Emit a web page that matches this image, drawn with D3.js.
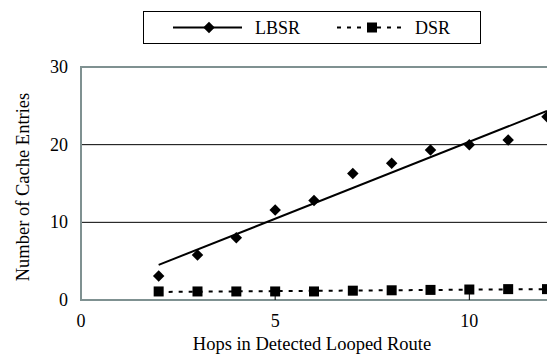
<!DOCTYPE html>
<html>
<head>
<meta charset="utf-8">
<script src="https://cdn.jsdelivr.net/npm/d3@7"></script>
<style>
  body { margin: 0; background: #fff; }
  svg { display: block; font-family: "Liberation Serif", "Times New Roman", serif; }
</style>
</head>
<body>
<div id="chart"></div>
<script>
// data
const hops = [2, 3, 4, 5, 6, 7, 8, 9, 10, 11, 12];
const lbsrValues = [3.1, 5.8, 8.0, 11.6, 12.8, 16.3, 17.6, 19.3, 20.0, 20.6, 23.6];
const dsrValues = [1.1, 1.1, 1.1, 1.1, 1.1, 1.2, 1.25, 1.3, 1.35, 1.4, 1.4];
const xTicks = [0, 5, 10];
const yTicks = [0, 10, 20, 30];

const W = 547, H = 356;
const margin = {top: 67, left: 81, bottom: 56};
const svg = d3.select("#chart").append("svg")
    .attr("width", W)
    .attr("height", H);

const x = d3.scaleLinear().domain([0, 12]).range([margin.left, 547]);
const y = d3.scaleLinear().domain([0, 30]).range([H - margin.bottom, margin.top]);

// linear trend (least squares) like the spreadsheet trendline
function trend(xs, ys) {
    const mx = d3.mean(xs), my = d3.mean(ys);
    let sxy = 0, sxx = 0;
    xs.forEach((v, i) => { sxy += (v - mx) * (ys[i] - my); sxx += (v - mx) * (v - mx); });
    const b = sxy / sxx, a = my - b * mx;
    const x0 = d3.min(xs), x1 = d3.max(xs);
    return [[x0, a + b * x0], [x1, a + b * x1]];
}

// gridlines
svg.append("g").selectAll("line")
    .data(yTicks.filter(t => t > 0 && t < 30))
    .join("line")
    .attr("x1", x(0)).attr("x2", W)
    .attr("y1", d => y(d)).attr("y2", d => y(d))
    .attr("stroke", "#000").attr("stroke-width", 1);

// plot frame (right side runs off the page)
svg.append("rect")
    .attr("x", x(0)).attr("y", y(30))
    .attr("width", W + 20 - x(0)).attr("height", y(0) - y(30))
    .attr("fill", "none").attr("stroke", "#7f9191").attr("stroke-width", 2);

// small inner ticks on x axis
svg.append("g").selectAll("line")
    .data(xTicks.filter(t => t > 0))
    .join("line")
    .attr("x1", d => x(d)).attr("x2", d => x(d))
    .attr("y1", y(0)).attr("y2", y(0) - 6)
    .attr("stroke", "#000");

// tick labels
svg.append("g").selectAll("text")
    .data(xTicks)
    .join("text")
    .attr("x", d => x(d)).attr("y", y(0) + 27)
    .attr("text-anchor", "middle")
    .attr("font-size", 18)
    .text(d => d);

svg.append("g").selectAll("text")
    .data(yTicks)
    .join("text")
    .attr("x", 68).attr("y", d => y(d) + 6)
    .attr("text-anchor", "end")
    .attr("font-size", 18)
    .text(d => d);

// axis titles
svg.append("text")
    .attr("x", 312).attr("y", 350)
    .attr("text-anchor", "middle")
    .attr("font-size", 18.5)
    .text("Hops in Detected Looped Route");

svg.append("text")
    .attr("transform", "translate(29," + 187 + ") rotate(-90)")
    .attr("text-anchor", "middle")
    .attr("font-size", 18.5)
    .text("Number of Cache Entries");

const line = d3.line().x(d => x(d[0])).y(d => y(d[1]));

// DSR series
svg.append("path")
    .attr("d", line(trend(hops, dsrValues)))
    .attr("fill", "none").attr("stroke", "#000").attr("stroke-width", 2)
    .attr("stroke-dasharray", "4,6");

svg.append("g").selectAll("rect")
    .data(hops.map((h, i) => [h, dsrValues[i]]))
    .join("rect")
    .attr("x", d => x(d[0]) - 5).attr("y", d => y(d[1]) - 5)
    .attr("width", 10).attr("height", 10)
    .attr("fill", "#000");

// LBSR series
svg.append("path")
    .attr("d", line(trend(hops, lbsrValues)))
    .attr("fill", "none").attr("stroke", "#000").attr("stroke-width", 2);

const diamond = d3.symbol().type(d3.symbolSquare).size(66);
svg.append("g").selectAll("path")
    .data(hops.map((h, i) => [h, lbsrValues[i]]))
    .join("path")
    .attr("d", diamond)
    .attr("transform", d => "translate(" + x(d[0]) + "," + y(d[1]) + ") rotate(45)")
    .attr("fill", "#000");

// legend
const lg = svg.append("g");
lg.append("rect")
    .attr("x", 143.5).attr("y", 11.5).attr("width", 337).attr("height", 32)
    .attr("fill", "#fff").attr("stroke", "#000").attr("stroke-width", 1);
lg.append("line")
    .attr("x1", 173).attr("x2", 242).attr("y1", 27.5).attr("y2", 27.5)
    .attr("stroke", "#000").attr("stroke-width", 2);
lg.append("path")
    .attr("d", diamond)
    .attr("transform", "translate(209,27.5) rotate(45)");
lg.append("text")
    .attr("x", 255).attr("y", 33.5).attr("font-size", 18).text("LBSR");
lg.append("line")
    .attr("x1", 337).attr("x2", 405).attr("y1", 27.5).attr("y2", 27.5)
    .attr("stroke", "#000").attr("stroke-width", 2).attr("stroke-dasharray", "4,6");
lg.append("rect")
    .attr("x", 367).attr("y", 22.5).attr("width", 10).attr("height", 10);
lg.append("text")
    .attr("x", 415).attr("y", 33.5).attr("font-size", 18).text("DSR");
</script>
</body>
</html>
